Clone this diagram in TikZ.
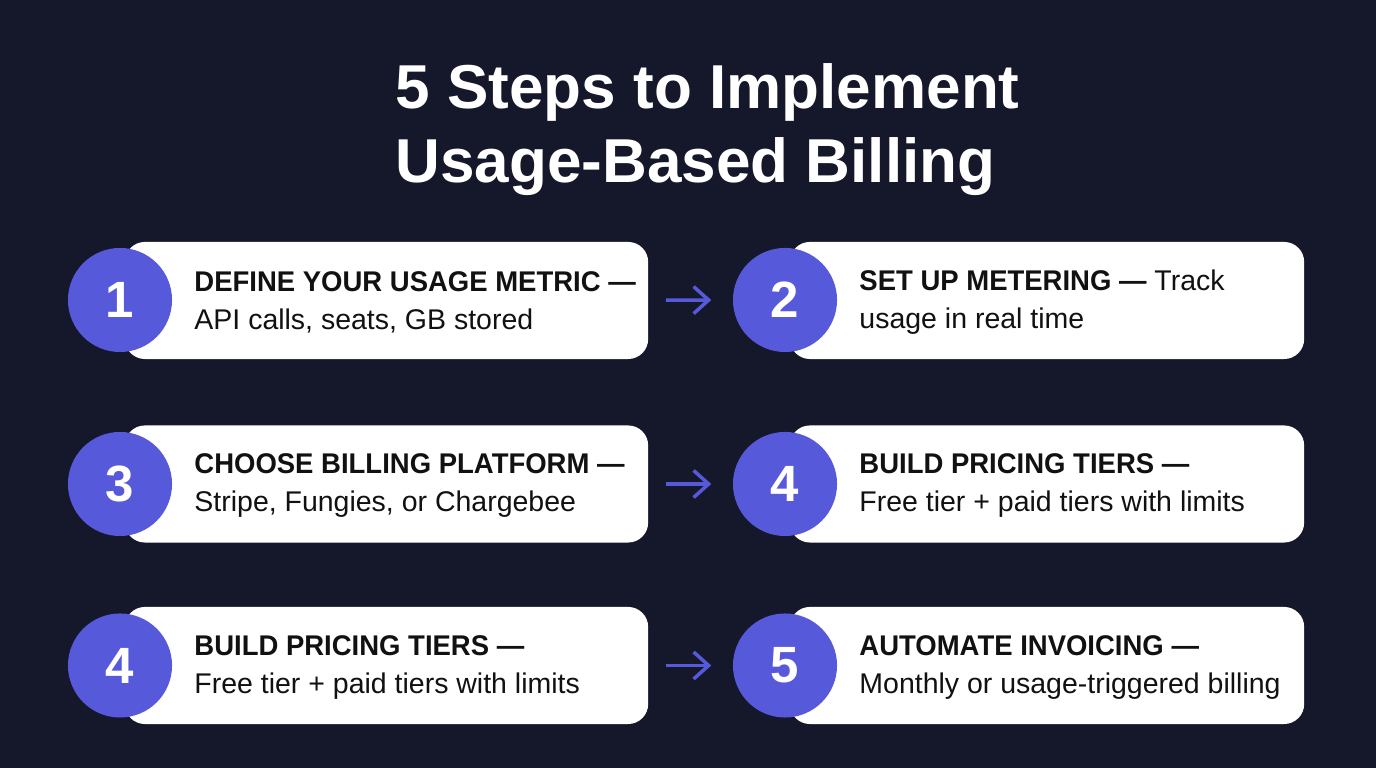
\documentclass[tikz,border=0pt]{standalone}
\usepackage{fontspec}
\setmainfont{Liberation Sans}
\newfontfamily\cardfont{Liberation Sans}
\newfontfamily\cardbold[FakeStretch=0.965]{Liberation Sans}
\usetikzlibrary{positioning,arrows.meta}

\definecolor{navy}{HTML}{15172A}
\definecolor{indigo}{HTML}{5759DB}
\definecolor{ink}{HTML}{111111}

\tikzset{
	card/.style={fill=white, rounded corners=0.2cm, minimum height=1.17cm, inner sep=0pt},
	leftcard/.style={card, minimum width=5.23cm},
	rightcard/.style={card, minimum width=5.14cm},
	num/.style={circle, fill=indigo, minimum size=1.04cm, inner sep=0pt, text=white,
		font=\fontsize{14.5pt}{16pt}\selectfont\bfseries},
	txt/.style={anchor=west, inner sep=0pt, align=left, text=ink, yshift=-0.02cm,
		font=\fontsize{8.1pt}{10.8pt}\selectfont\cardfont},
	arr/.style={indigo, line width=1pt, -{Straight Barb[length=1.5mm, width=2.7mm]},
		shorten <=0.17cm, shorten >=0.21cm}
}

\begin{document}
\begin{tikzpicture}[x=0.01cm, y=0.01cm]
		\fill[navy] (0,0) rectangle (1376,768);
		\useasboundingbox (0,0) rectangle (1376,768);

		\node[anchor=north west, inner sep=0pt, align=left, text=white,
			font=\fontsize{17.64pt}{21pt}\selectfont\bfseries] (title) at (395,705)
			{5 Steps to Implement\\Usage-Based Billing};

		\node[leftcard] (card1) at (386.5,467.5) {};
		\node[rightcard] (card2) at (1047,467.5) {};
		\node[leftcard] (card3) at (386.5,284) {};
		\node[rightcard] (card4) at (1047,284) {};
		\node[leftcard] (card5) at (386.5,102.5) {};
		\node[rightcard] (card6) at (1047,102.5) {};

		\node[num] (num1) at (120,468) {1};
		\node[num] (num2) at (785,468) {2};
		\node[num] (num3) at (120,284) {3};
		\node[num] (num4) at (785,284) {4};
		\node[num] (num5) at (120,102.5) {4};
		\node[num] (num6) at (785,102.5) {5};

		\node[txt, right=0.21cm of num1] (step1) {{\cardbold\bfseries DEFINE YOUR USAGE METRIC —}\\API calls, seats, GB stored};
		\node[txt, right=0.21cm of num2] (step2) {{\cardbold\bfseries SET UP METERING —} Track\\usage in real time};
		\node[txt, right=0.21cm of num3] (step3) {{\cardbold\bfseries CHOOSE BILLING PLATFORM —}\\Stripe, Fungies, or Chargebee};
		\node[txt, right=0.21cm of num4] (step4) {{\cardbold\bfseries BUILD PRICING TIERS —}\\Free tier + paid tiers with limits};
		\node[txt, right=0.21cm of num5] (step5) {{\cardbold\bfseries BUILD PRICING TIERS —}\\Free tier + paid tiers with limits};
		\node[txt, right=0.21cm of num6] (step6) {{\cardbold\bfseries AUTOMATE INVOICING —}\\Monthly or usage-triggered billing};

		\draw[arr] (card1) -- (num2);
		\draw[arr] (card3) -- (num4);
		\draw[arr] (card5) -- (num6);
	\end{tikzpicture}
\end{document}
